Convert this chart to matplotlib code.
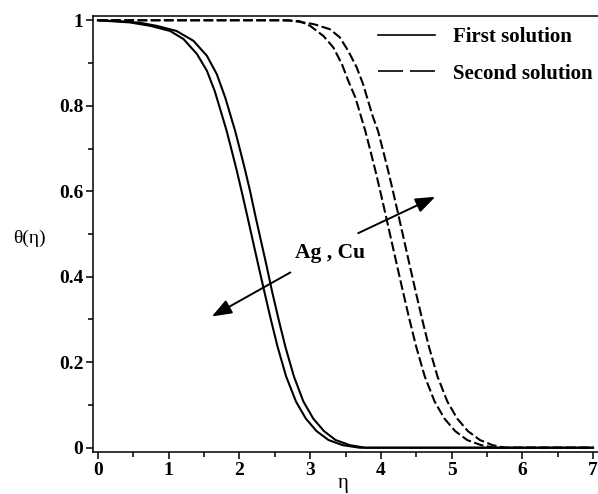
import matplotlib
matplotlib.use("Agg")
import matplotlib.pyplot as plt
from matplotlib.lines import Line2D
from matplotlib.ticker import MultipleLocator

plt.rcParams['font.family'] = ['Liberation Serif', 'DejaVu Serif']
plt.rcParams['lines.scale_dashes'] = False

# First solution (solid), two nanofluids
first_x1 = [0, 0.17, 0.45, 0.74, 1.02, 1.21, 1.40, 1.54, 1.65, 1.75, 1.82, 1.89, 1.96, 2.03, 2.11,
            2.19, 2.27, 2.35, 2.44, 2.54, 2.66, 2.80, 2.94, 3.09, 3.26, 3.46, 3.7, 7.0]
first_y1 = [1.0, 0.998, 0.995, 0.987, 0.975, 0.956, 0.921, 0.882, 0.835, 0.780, 0.741, 0.696, 0.650,
            0.601, 0.543, 0.484, 0.425, 0.367, 0.303, 0.236, 0.167, 0.108, 0.068, 0.039, 0.018, 0.006,
            0.0, 0.0]
first_x2 = [0, 0.3, 0.6, 0.83, 1.11, 1.35, 1.54, 1.68, 1.80, 1.87, 1.94, 2.01, 2.08, 2.15, 2.225,
            2.305, 2.385, 2.46, 2.55, 2.65, 2.77, 2.905, 3.045, 3.195, 3.36, 3.56, 3.78, 7.0]
first_y2 = [1.0, 0.998, 0.994, 0.987, 0.975, 0.952, 0.917, 0.874, 0.819, 0.780, 0.741, 0.696, 0.650,
            0.601, 0.543, 0.484, 0.425, 0.367, 0.303, 0.236, 0.167, 0.108, 0.068, 0.039, 0.018, 0.006,
            0.0, 0.0]

# Second solution (dashed)
second_x1 = [0, 2.6, 2.85, 3.0, 3.19, 3.33, 3.45, 3.54, 3.64, 3.71, 3.78, 3.85, 3.92, 3.99, 4.07,
             4.15, 4.23, 4.31, 4.40, 4.50, 4.62, 4.76, 4.90, 5.05, 5.22, 5.42, 5.6, 7.0]
second_y1 = [1.0, 1.0, 0.998, 0.987, 0.963, 0.936, 0.897, 0.858, 0.819, 0.780, 0.741, 0.696, 0.650,
             0.601, 0.543, 0.484, 0.425, 0.367, 0.303, 0.236, 0.167, 0.108, 0.068, 0.039, 0.018,
             0.006, 0.0, 0.0]
second_x2 = [0, 2.7, 3.05, 3.28, 3.42, 3.54, 3.66, 3.75, 3.82, 3.89, 3.96, 4.03, 4.10, 4.17, 4.25,
             4.33, 4.41, 4.49, 4.58, 4.68, 4.80, 4.94, 5.08, 5.23, 5.40, 5.58, 5.75, 7.0]
second_y2 = [1.0, 1.0, 0.991, 0.979, 0.960, 0.928, 0.889, 0.850, 0.811, 0.773, 0.741, 0.696, 0.650,
             0.601, 0.543, 0.484, 0.425, 0.367, 0.303, 0.236, 0.167, 0.108, 0.068, 0.039, 0.018,
             0.006, 0.0, 0.0]

x_ticks = [0, 1, 2, 3, 4, 5, 6, 7]
y_ticks = [0, 0.2, 0.4, 0.6, 0.8, 1]
y_tick_labels = ['0', '0.2', '0.4', '0.6', '0.8', '1']
legend_labels = ['First solution', 'Second solution']

fig = plt.figure(figsize=(5.98, 4.94), dpi=100)
ax = fig.add_axes([93/598, 1 - 452/494, 1 - 93/598, (452 - 16)/494])

lw = 1.5
dash = (7, 2.5)
ax.plot(first_x1, first_y1, color='black', lw=lw)
ax.plot(first_x2, first_y2, color='black', lw=lw)
ax.plot(second_x1, second_y1, color='black', lw=lw, dashes=dash)
ax.plot(second_x2, second_y2, color='black', lw=lw, dashes=dash)

ax.set_xlim(-0.07, 7.07)
ax.set_ylim(-0.01, 1.01)

ax.spines['right'].set_visible(False)
for s in ['left', 'bottom', 'top']:
    ax.spines[s].set_linewidth(1.1)

ax.set_xticks(x_ticks)
ax.set_xticklabels([str(v) for v in x_ticks])
ax.set_yticks(y_ticks)
ax.set_yticklabels(y_tick_labels)
ax.xaxis.set_minor_locator(MultipleLocator(0.5))
ax.yaxis.set_minor_locator(MultipleLocator(0.1))
ax.tick_params(axis='both', which='major', direction='out', length=5, width=1.1,
               labelsize=14, pad=2)
ax.tick_params(axis='both', which='minor', direction='out', length=3.5, width=1.1)
for lab in ax.get_xticklabels() + ax.get_yticklabels():
    lab.set_fontweight('bold')

ax.set_xlabel('η', fontsize=15, labelpad=0)
ax.xaxis.set_label_coords(0.495, -0.05)
ax.set_ylabel('θ(η)', fontsize=14, rotation=0, ha='left', va='center')
ax.yaxis.set_label_coords(-0.158, 0.49)

arrow_style = dict(arrowstyle='-|>,head_length=0.8,head_width=0.3', color='black',
                   lw=1.4, mutation_scale=15, shrinkA=0, shrinkB=0)
ax.annotate('', xy=(1.61, 0.307), xytext=(2.72, 0.41), arrowprops=arrow_style)
ax.annotate('', xy=(4.77, 0.587), xytext=(3.68, 0.502), arrowprops=arrow_style)
ax.text(2.79, 0.444, 'Ag , Cu', fontsize=15.5, fontweight='bold', ha='left', va='baseline')

handles = [Line2D([], [], color='black', lw=1.2),
           Line2D([], [], color='black', lw=1.2, dashes=(18, 5))]
leg = ax.legend(handles, legend_labels, loc='upper left',
                bbox_to_anchor=(378/598, 1 - 27/494), bbox_transform=fig.transFigure,
                frameon=False, handlelength=2.74, handletextpad=0.87, labelspacing=0.8,
                borderaxespad=0, borderpad=0, prop={'weight': 'bold', 'size': 15})

fig.savefig('out.png', dpi=100)
